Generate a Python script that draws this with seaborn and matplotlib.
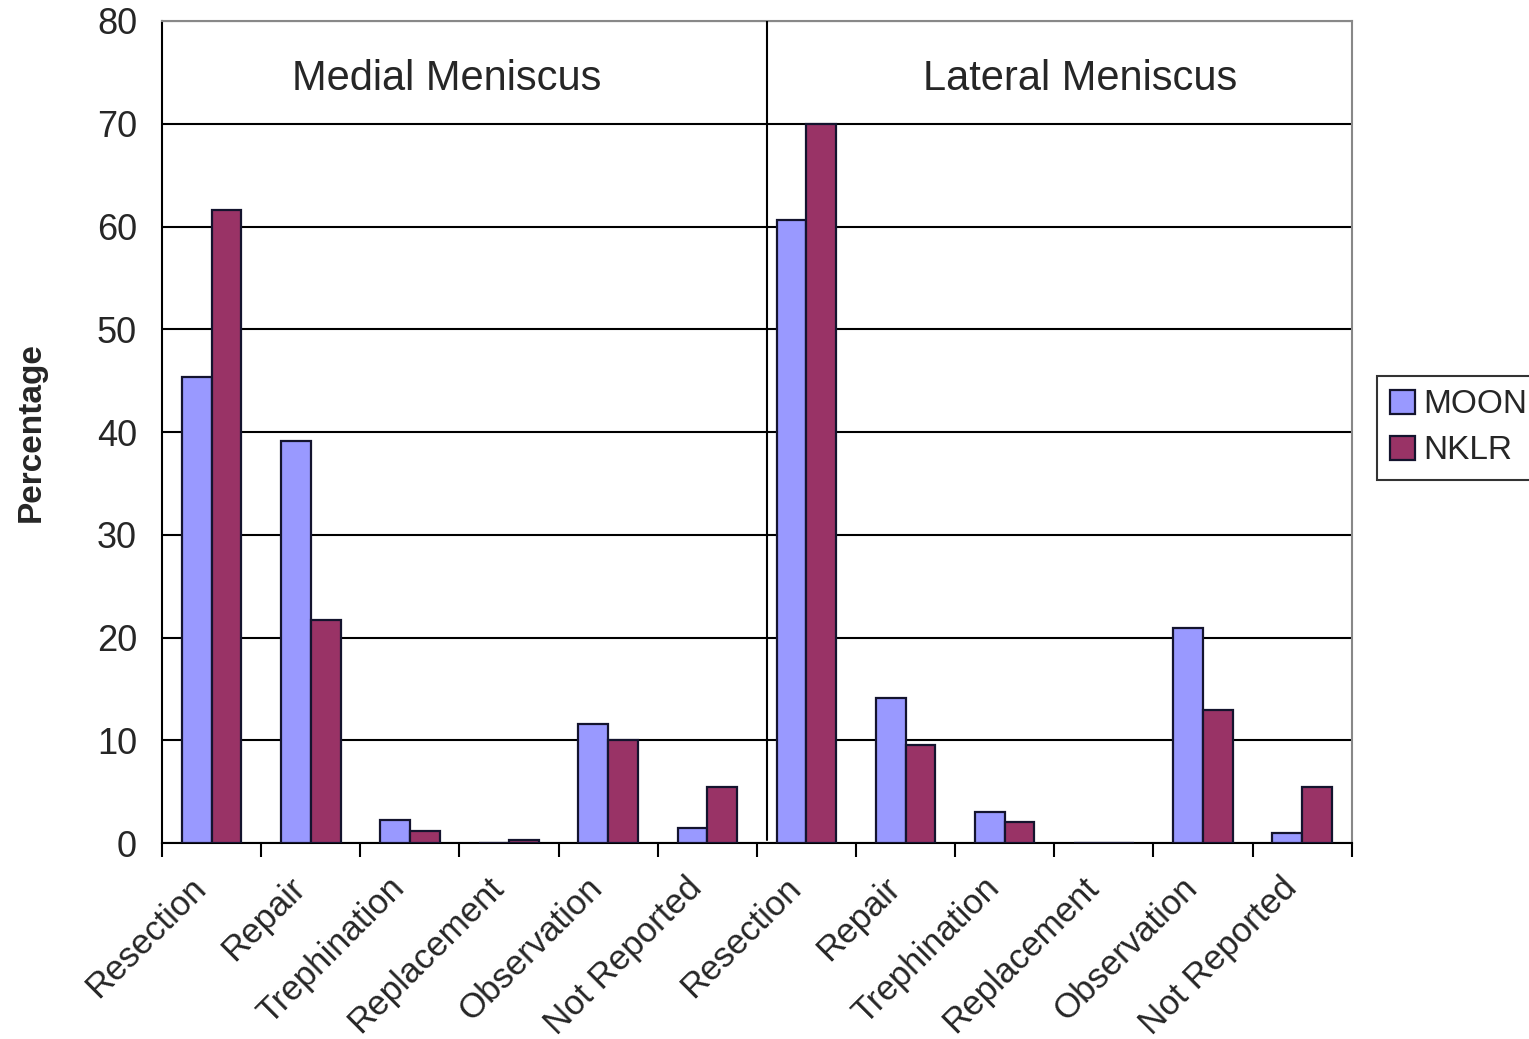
import numpy as np
import pandas as pd
import seaborn as sns
import matplotlib.pyplot as plt
import matplotlib.transforms as mtransforms
from matplotlib.ticker import FixedLocator

# data
treatments = ["Resection", "Repair", "Trephination", "Replacement", "Observation", "Not Reported"]
moon_medial = [45.4, 39.1, 2.2, 0.0, 11.6, 1.5]
nklr_medial = [61.6, 21.7, 1.2, 0.3, 10.0, 5.5]
moon_lateral = [60.6, 14.1, 3.0, 0.0, 20.9, 1.0]
nklr_lateral = [70.0, 9.5, 2.0, 0.0, 12.9, 5.5]
groups = ["Medial Meniscus", "Lateral Meniscus"]
series = ["MOON", "NKLR"]
colors = {"MOON": "#9999FF", "NKLR": "#993366"}

rows = []
for g, (moon, nklr) in zip(groups, [(moon_medial, nklr_medial), (moon_lateral, nklr_lateral)]):
    for t, m, n in zip(treatments, moon, nklr):
        key = f"{g}|{t}"
        rows.append({"key": key, "Series": "MOON", "value": m})
        rows.append({"key": key, "Series": "NKLR", "value": n})
df = pd.DataFrame(rows)
order = [f"{g}|{t}" for g in groups for t in treatments]

sns.set_style("white")
plt.rcParams["font.family"] = ["Liberation Sans", "DejaVu Sans"]

fig = plt.figure(figsize=(15.29, 10.39), dpi=100)
ax = fig.add_axes([0.106, 0.1886, 0.778, 0.7912])

sns.barplot(data=df, x="key", y="value", hue="Series", order=order, hue_order=series,
            palette=colors, saturation=1, width=0.6, gap=0, edgecolor="#14142e",
            linewidth=1.6, ax=ax, zorder=3)

n = len(order)
ax.set_xlim(-0.5, n - 0.5)
ax.set_ylim(0, 80)
ax.set_yticks(np.arange(0, 81, 10))
ax.tick_params(axis="y", labelsize=26, length=12, width=1.5, direction="out", color="black", pad=6)
ax.yaxis.grid(True, color="black", linewidth=1.5, zorder=0)
ax.set_axisbelow(True)

# labels at category centres, tick marks at category boundaries
ax.set_xticks(range(n))
ax.set_xticklabels(treatments * 2, rotation=45, ha="right", rotation_mode="anchor", fontsize=25)
ax.tick_params(axis="x", which="major", length=0, pad=20)
shift = mtransforms.ScaledTranslation(-16 / 72, 0, fig.dpi_scale_trans)
for lab in ax.get_xticklabels():
    lab.set_transform(lab.get_transform() + shift)
ax.xaxis.set_minor_locator(FixedLocator(np.arange(-0.5, n, 1)))
ax.tick_params(axis="x", which="minor", length=10, width=1.5, direction="out", color="black", bottom=True)

ax.set_xlabel("")
ax.set_ylabel("Percentage", fontsize=24, fontweight="bold", labelpad=36)

for s in ["left", "bottom"]:
    ax.spines[s].set_color("black")
    ax.spines[s].set_linewidth(1.5)
for s in ["top", "right"]:
    ax.spines[s].set_color("#888888")
    ax.spines[s].set_linewidth(1.5)

# divider between meniscus groups and group titles
ax.plot([5.6, 5.6], [0.3, 80], color="black", linewidth=1.5, zorder=4)
ax.text(2.37, 74.4, groups[0], ha="center", va="center", fontsize=30)
ax.text(8.76, 74.4, groups[1], ha="center", va="center", fontsize=30)

leg = ax.legend(loc="center left", bbox_to_anchor=(1.021, 0.505), fontsize=24, frameon=True,
                fancybox=False, edgecolor="black", handlelength=0.75, handleheight=0.75,
                handletextpad=0.25, borderpad=0.4, labelspacing=0.45, borderaxespad=0)
leg.get_frame().set_linewidth(1.5)

fig.savefig("out.png", dpi=100)
